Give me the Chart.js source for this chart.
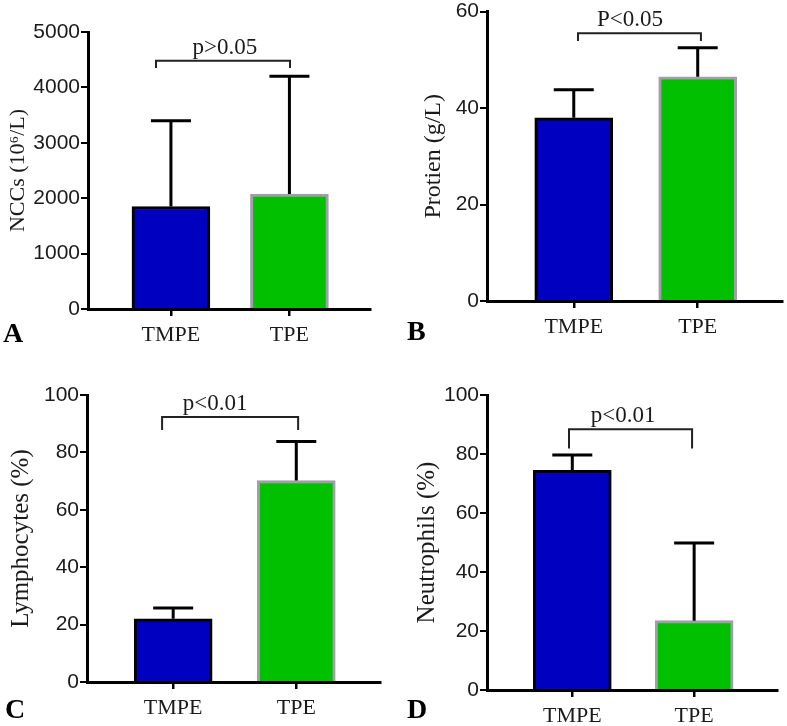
<!DOCTYPE html>
<html>
<head>
<meta charset="utf-8">
<script src="https://cdn.jsdelivr.net/npm/chart.js@4.4.1/dist/chart.umd.min.js"></script>
<style>
    body { margin: 0; background: #fff; width: 787px; height: 726px; position: relative; overflow: hidden; }
    canvas { position: absolute; }
</style>
</head>
<body>
<canvas id="chartA" width="390" height="360" style="left:0;top:0"></canvas>
<canvas id="chartB" width="397" height="362" style="left:390px;top:-2px"></canvas>
<canvas id="chartC" width="390" height="366" style="left:0;top:360px"></canvas>
<canvas id="chartD" width="397" height="366" style="left:390px;top:360px"></canvas>
<script>
// Datos
const grupos = ["TMPE", "TPE"];
const posX = [1, 2];

const nccMedia = [1850, 2075];
const nccDE = [1550, 2125];

const proteinaMedia = [38, 46.5];
const proteinaDE = [5.8, 6];

const linfoMedia = [22, 70.2];
const linfoDE = [3.8, 13.6];

const neutroMedia = [74.5, 23.5];
const neutroDE = [5.2, 26.3];

const pValores = ["p>0.05", "P<0.05", "p<0.01", "p<0.01"];

const serif = '"Liberation Serif", "Times New Roman", serif';
const sans = '"Liberation Sans", Arial, sans-serif';

// Configuración de cada panel (posiciones y tamaños)
let paneles = [
    { id: "chartA", letra: "A", tituloY: "NCCs (10\u2076/L)", tamTitulo: 22, media: nccMedia, de: nccDE, yMax: 5000, paso: 1000, p: pValores[0],
      corchete: [0.874, 2.005, 4480, 4350], textoX: 1.456, relleno: { top: 32, right: 20, left: 0, bottom: 0 },
      anchoY: 88, altoX: 51, tituloPad: 5, letraPos: [3, 342] },
    { id: "chartB", letra: "B", tituloY: "Protien (g/L)", tamTitulo: 24, media: proteinaMedia, de: proteinaDE, yMax: 60, paso: 20, p: pValores[1],
      corchete: [1.034, 2.026, 55.5, 53.9], textoX: 1.453, relleno: { top: 12, right: 5, left: 0, bottom: 0 },
      anchoY: 97, altoX: 59, tituloPad: 29, letraPos: [17, 342] },
    { id: "chartC", letra: "C", tituloY: "Lymphocytes (%)", tamTitulo: 25, media: linfoMedia, de: linfoDE, yMax: 100, paso: 20, p: pValores[2],
      corchete: [0.91, 2.015, 92.3, 87.8], textoX: 1.34, relleno: { top: 35, right: 10, left: 0, bottom: 0 },
      anchoY: 87, altoX: 44, tituloPad: 6, letraPos: [5, 358] },
    { id: "chartD", letra: "D", tituloY: "Neutrophils (%)", tamTitulo: 25, media: neutroMedia, de: neutroDE, yMax: 100, paso: 20, p: pValores[3],
      corchete: [0.973, 1.983, 88.4, 81.9], textoX: 1.417, relleno: { top: 35, right: 10, left: 0, bottom: 0 },
      anchoY: 97, altoX: 36, tituloPad: 22, letraPos: [17, 358] },
];

// Barras de error, corchete de significancia y letra del panel
function crearAnotaciones(p) {
    return {
        id: "anotaciones",
        afterDatasetsDraw(chart) {
            const ctx = chart.ctx;
            const x = chart.scales.x, y = chart.scales.y;
            ctx.save();
            ctx.strokeStyle = "#000";
            ctx.lineWidth = 3;
            p.media.forEach((m, i) => {
                const cx = x.getPixelForValue(posX[i]);
                const y0 = y.getPixelForValue(m);
                const y1 = y.getPixelForValue(m + p.de[i]);
                ctx.beginPath();
                ctx.moveTo(cx, y0);
                ctx.lineTo(cx, y1);
                ctx.moveTo(cx - 20, y1);
                ctx.lineTo(cx + 20, y1);
                ctx.stroke();
            });

            const b = p.corchete;
            const xa = x.getPixelForValue(b[0]), xb = x.getPixelForValue(b[1]);
            const yb = y.getPixelForValue(b[2]), yl = y.getPixelForValue(b[3]);
            ctx.lineWidth = 2;
            ctx.strokeStyle = "#222";
            ctx.beginPath();
            ctx.moveTo(xa, yl);
            ctx.lineTo(xa, yb);
            ctx.lineTo(xb, yb);
            ctx.lineTo(xb, yl);
            ctx.stroke();

            ctx.fillStyle = "#1a1a1a";
            ctx.font = "23px " + serif;
            ctx.textAlign = "center";
            ctx.textBaseline = "alphabetic";
            ctx.fillText(p.p, x.getPixelForValue(p.textoX), yb - 7);

            ctx.fillStyle = "#000";
            ctx.font = "bold 28px " + serif;
            ctx.textAlign = "left";
            ctx.fillText(p.letra, p.letraPos[0], p.letraPos[1]);
            ctx.restore();
        }
    };
}

paneles.forEach(p => {
    new Chart(document.getElementById(p.id), {
        type: "bar",
        data: {
            datasets: [{
                data: p.media.map((v, i) => ({ x: posX[i], y: v })),
                backgroundColor: ["#0000c0", "#00c000"],
                borderColor: ["#000000", "#a39dab"],
                borderWidth: 3,
                barThickness: 78,
            }]
        },
        options: {
            responsive: false,
            animation: false,
            layout: { padding: p.relleno },
            plugins: { legend: { display: false }, tooltip: { enabled: false } },
            scales: {
                x: {
                    type: "linear",
                    min: 0.3,
                    max: 2.68,
                    offset: false,
                    afterBuildTicks: s => { s.ticks = posX.map(v => ({ value: v })); },
                    afterFit: s => { s.height = p.altoX; },
                    grid: { offset: false, drawOnChartArea: false, drawTicks: true, tickLength: 7, color: "#000", lineWidth: 2.5 },
                    border: { color: "#000", width: 3 },
                    ticks: {
                        callback: (v, i) => grupos[i],
                        font: { family: serif, size: 22 },
                        color: "#1a1a1a",
                        padding: 6,
                        maxRotation: 0,
                        autoSkip: false
                    }
                },
                y: {
                    min: 0,
                    max: p.yMax,
                    afterFit: s => { s.width = p.anchoY; },
                    grid: { drawOnChartArea: false, drawTicks: true, tickLength: 7, color: "#000", lineWidth: 2 },
                    border: { color: "#000", width: 3 },
                    ticks: {
                        stepSize: p.paso,
                        callback: v => String(v),
                        font: { family: sans, size: 21 },
                        color: "#1a1a1a",
                        padding: 1
                    },
                    title: {
                        display: true,
                        text: p.tituloY,
                        font: { family: serif, size: p.tamTitulo },
                        color: "#1a1a1a",
                        padding: { top: p.tituloPad, bottom: 0 }
                    }
                }
            }
        },
        plugins: [crearAnotaciones(p)]
    });
});
</script>
</body>
</html>
